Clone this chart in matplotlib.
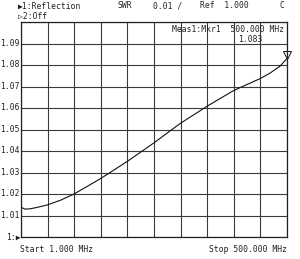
import numpy as np
import matplotlib
matplotlib.use("Agg")
import matplotlib.pyplot as plt

# Data (frequency in MHz, SWR)
freq_mhz = [1.0, 7.9, 17.9, 30.0, 50.3, 76.0, 100.4, 125.0, 150.5, 175.0, 200.0,
            250.5, 299.0, 350.0, 399.0, 430.0, 450.6, 468.0, 487.0, 500.0]
swr = [1.0139, 1.0130, 1.0131, 1.0137, 1.0149, 1.0172, 1.0200, 1.0235, 1.0272, 1.0311, 1.0351,
       1.0438, 1.0527, 1.0608, 1.0680, 1.0715, 1.0738, 1.0762, 1.0795, 1.0830]
y_tick_labels = ["1.01", "1.02", "1.03", "1.04", "1.05", "1.06", "1.07", "1.08", "1.09"]
y_tick_values = [1.01, 1.02, 1.03, 1.04, 1.05, 1.06, 1.07, 1.08, 1.09]
start_mhz, stop_mhz = 1.0, 500.0
ref_val, scale_div = 1.00, 0.01

W, H = 300, 259
fig = plt.figure(figsize=(W / 100, H / 100), dpi=100)
fig.patch.set_facecolor("white")

mono = ["DejaVu Sans Mono", "DejaVu Sans"]
fs = 5.8
tc = "#222222"

ax = fig.add_axes([21 / W, 1 - 237 / H, (287 - 21) / W, (237 - 22) / H])
ax.set_xlim(start_mhz, stop_mhz)
ax.set_ylim(ref_val, ref_val + 10 * scale_div)
ax.set_xticks(np.linspace(start_mhz, stop_mhz, 11))
ax.set_yticks([ref_val + i * scale_div for i in range(11)])
ax.grid(True, color="#3a3a3a", linewidth=0.8)
ax.tick_params(length=0, labelbottom=False, labelleft=False)
for s in ax.spines.values():
    s.set_color("#222222")
    s.set_linewidth(0.9)

ax.plot(freq_mhz, swr, color="#111111", linewidth=0.8)

# marker at end
ax.plot([freq_mhz[-1]], [swr[-1] + 0.0016], marker="v", markersize=5.5,
        markerfacecolor="white", markeredgecolor="#111111", markeredgewidth=0.7,
        clip_on=False)
ax.plot([freq_mhz[-1] - 0.8, freq_mhz[-1] - 0.8], [swr[-1] + 0.0030, swr[-1] + 0.0055],
        color="#111111", linewidth=0.7, clip_on=False)

# y tick labels
for v, lab in zip(y_tick_values, y_tick_labels):
    fig.text(20 / W, 1 - (237 - (v - ref_val) / (10 * scale_div) * 215) / H, lab,
             ha="right", va="center", fontsize=fs, family=mono, color=tc)
fig.text(20.5 / W, 1 - 237 / H, "1:\u25B6", ha="right", va="center", fontsize=fs,
         family=mono, color=tc)

# header
fig.text(18 / W, 1 - 6 / H, "\u25B61:Reflection", ha="left", va="center", fontsize=fs,
         family=mono, color=tc)
fig.text(18 / W, 1 - 16 / H, "\u25B72:Off", ha="left", va="center", fontsize=fs,
         family=mono, color=tc)
fig.text(118 / W, 1 - 6 / H, "SWR", ha="left", va="center", fontsize=fs,
         family=mono, color=tc)
fig.text(153 / W, 1 - 6 / H, "0.01 /", ha="left", va="center", fontsize=fs,
         family=mono, color=tc)
fig.text(200 / W, 1 - 6 / H, "Ref  1.000", ha="left", va="center", fontsize=fs,
         family=mono, color=tc)
fig.text(279 / W, 1 - 6 / H, "C", ha="left", va="center", fontsize=fs,
         family=mono, color=tc)

# marker readout
fig.text(284 / W, 1 - 29 / H, "Meas1:Mkr1  500.000 MHz", ha="right", va="center",
         fontsize=fs, family=mono, color=tc)
fig.text(262 / W, 1 - 39 / H, "1.083", ha="right", va="center",
         fontsize=fs, family=mono, color=tc)

# footer
fig.text(20 / W, 1 - 250 / H, "Start 1.000 MHz", ha="left", va="center", fontsize=fs,
         family=mono, color=tc)
fig.text(287 / W, 1 - 250 / H, "Stop 500.000 MHz", ha="right", va="center", fontsize=fs,
         family=mono, color=tc)

fig.savefig("out.png", dpi=100, facecolor="white")
